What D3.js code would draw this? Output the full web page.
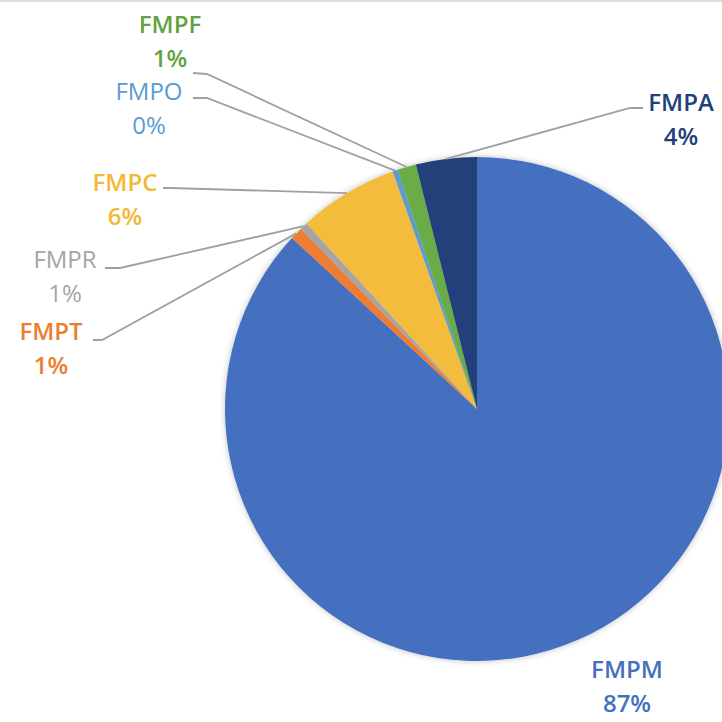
<!DOCTYPE html>
<html>
<head>
<meta charset="utf-8">
<script src="https://cdn.jsdelivr.net/npm/d3@7"></script>
<style>
  html, body { margin: 0; padding: 0; background: #fff; }
  svg { display: block; }
</style>
</head>
<body>
<div id="chart"></div>
<script>
let width = 722;
let height = 722;

// data: slice order clockwise from 12 o'clock
let categories = ["FMPM", "FMPT", "FMPR", "FMPC", "FMPO", "FMPF", "FMPA"];
let shares = [86.87, 0.8, 0.5, 6.4, 0.33, 1.2, 3.9];

// colours
let sliceColors = ["#4470c0", "#ed7d31", "#a5a5a5", "#f4bc3c", "#5b9bd5", "#6aac46", "#21407a"];
let textColors = ["#4470c0", "#ed7d31", "#a5a5a5", "#f2b935", "#5b9bd5", "#62a33f", "#21407a"];

// label layout: text centre x, first line centre y, leader start / elbow
let labelLayout = [
  {x: 627, y: 669, line: null},
  {x: 51, y: 331, line: [[93, 340], [102, 340]]},
  {x: 65, y: 259, line: [[105, 268], [120, 268]]},
  {x: 125, y: 182, line: [[163, 188], [170, 188]]},
  {x: 149, y: 91, line: [[193, 98], [207, 98]]},
  {x: 170, y: 24, line: [[193, 73], [207, 74]]},
  {x: 681, y: 102, line: [[643, 108], [630, 108]]}
];

let cx = 477;
let cy = 409;
let radius = 252;
let lineGap = 34;
let pct = d3.format(".0f");

let svg = d3.select("#chart").append("svg")
  .attr("width", width)
  .attr("height", height);

// faint frame line at the top
svg.append("line")
  .attr("x1", 0).attr("x2", width)
  .attr("y1", 1).attr("y2", 1)
  .style("stroke", "#dcdcdc")
  .style("stroke-width", 2);

let defs = svg.append("defs");
let shadow = defs.append("filter")
  .attr("id", "glow")
  .attr("x", "-10%").attr("y", "-10%")
  .attr("width", "120%").attr("height", "120%");
shadow.append("feDropShadow")
  .attr("dx", 0).attr("dy", 0)
  .attr("stdDeviation", 3)
  .attr("flood-color", "#000")
  .attr("flood-opacity", 0.25);

let pie = d3.pie().sort(null).value(d => d);
let arcs = pie(shares);

let arc = d3.arc().innerRadius(0).outerRadius(radius);
let edgeArc = d3.arc().innerRadius(radius).outerRadius(radius);

let g = svg.append("g").attr("transform", "translate(" + cx + "," + cy + ")");

g.append("g")
  .attr("filter", "url(#glow)")
  .selectAll("path")
  .data(arcs)
  .enter()
  .append("path")
  .attr("d", arc)
  .style("fill", (d, i) => sliceColors[i]);

// leader lines
let lineGen = d3.line();
svg.append("g").selectAll("path")
  .data(arcs.filter((d, i) => labelLayout[i].line))
  .enter()
  .append("path")
  .attr("d", d => {
    let i = d.index;
    let e = edgeArc.centroid(d);
    let pts = labelLayout[i].line.concat([[cx + e[0], cy + e[1]]]);
    return lineGen(pts);
  })
  .style("fill", "none")
  .style("stroke", "#a0a0a0")
  .style("stroke-width", 1.8);

// labels
let labels = svg.append("g").selectAll("text")
  .data(arcs)
  .enter()
  .append("text")
  .attr("text-anchor", "middle")
  .style("font-family", "'Open Sans', sans-serif")
  .style("font-size", "24px")
  .style("font-weight", (d, i) => (i === 2 || i === 4) ? 400 : 600)
  .style("fill", (d, i) => textColors[i]);

labels.append("tspan")
  .attr("x", (d, i) => labelLayout[i].x)
  .attr("y", (d, i) => labelLayout[i].y)
  .attr("dy", "0.36em")
  .text((d, i) => categories[i]);

labels.append("tspan")
  .attr("x", (d, i) => labelLayout[i].x)
  .attr("y", (d, i) => labelLayout[i].y + lineGap)
  .attr("dy", "0.36em")
  .text((d, i) => pct(shares[i]) + "%");
</script>
</body>
</html>
